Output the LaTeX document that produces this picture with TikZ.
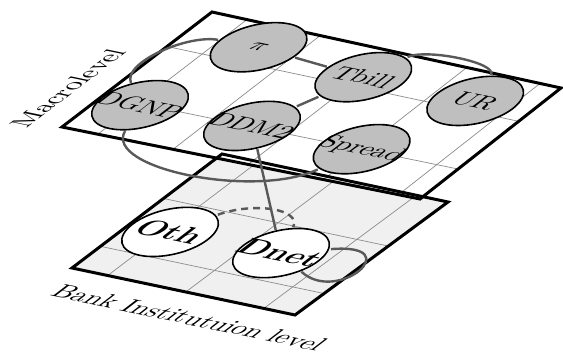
\documentclass[tikz,border=0pt]{standalone}
\usetikzlibrary{calc}
\pgfdeclarelayer{planes}
\pgfdeclarelayer{links}
\pgfsetlayers{planes,links,main}
\begin{document}
\begin{tikzpicture}[x=1pt,y=1pt,
  planeframe/.style={line width=3pt, line join=miter},
  gridline/.style={draw=black!45, line width=0.7pt},
  upperframe/.style={x=1cm,y=1cm,cm={2.636,-0.5448,2.1439,1.6413,(62pt,229pt)}},
  lowerframe/.style={x=1cm,y=1cm,cm={2.636,-0.5448,2.1439,1.6413,(72pt,88pt)}},
  macro/.style={circle, draw=black, line width=1.6pt, fill=gray!50,
    minimum size=1cm, inner sep=0pt, transform shape},
  bank/.style={macro, fill=white, font=\large\bfseries},
  link/.style={draw=black!65, line width=2.4pt},
  levelname/.style={transform shape, inner sep=0pt},
]
\useasboundingbox (0,0) rectangle (563,356);

% corners of the two planes
\coordinate (lBL) at (72,88);
\coordinate (lBR) at (295,41);
\coordinate (lTR) at (448,154);
\coordinate (lTL) at (222,202);
\coordinate (uBL) at (62,229);
\coordinate (uBR) at (420,157);
\coordinate (uTR) at (561,268);
\coordinate (uTL) at (212,344);

\begin{pgfonlayer}{planes}
  % bank institution plane
  \fill[gray!12] (lBL) -- (lBR) -- (lTR) -- (lTL) -- cycle;
  \foreach \f in {0.16,0.51,0.86}
    \draw[gridline] ($(lBL)!\f!(lBR)$) -- ($(lTL)!\f!(lTR)$);
  \foreach \f in {0.19,0.61}
    \draw[gridline] ($(lBL)!\f!(lTL)$) -- ($(lBR)!\f!(lTR)$);
  % macro plane
  \fill[white] (uBL) -- (uBR) -- (uTR) -- (uTL) -- cycle;
  \foreach \f in {0.10,0.31,0.52,0.73,0.94}
    \draw[gridline] ($(uBL)!\f!(uBR)$) -- ($(uTL)!\f!(uTR)$);
  \foreach \f in {0.27,0.70}
    \draw[gridline] ($(uBL)!\f!(uTL)$) -- ($(uBR)!\f!(uTR)$);
  % frames of both planes on top of the fills
  \draw[planeframe] (lBL) -- (lBR) -- (lTR) -- (lTL) -- cycle;
  \draw[planeframe] (uBL) -- (uBR) -- (uTR) -- (uTL) -- cycle;
\end{pgfonlayer}

% macro level variables
\begin{scope}[upperframe]
  \node[macro] (DGNP)   at (0.52,0.64) {\makebox[0pt]{DGNP}};
  \node[macro] (pi)     at (0.97,2.03) {\makebox[0pt]{\small$\pi$}};
  \node[macro] (DDM2)   at (1.98,0.68) {\makebox[0pt]{DDM2}};
  \node[macro] (Tbill)  at (2.48,1.89) {\makebox[0pt]{Tbill}};
  \node[macro] (UR)     at (3.98,1.88) {\makebox[0pt]{UR}};
  \node[macro] (Spread) at (3.45,0.67) {\makebox[0pt]{Spread}};
  \node[levelname, rotate=90] (macrotitle) at (-0.47,0.67) {Macrolevel};
\end{scope}

% bank level variables
\begin{scope}[lowerframe]
  \node[bank] (Oth)  at (0.535,0.95) {\makebox[0pt]{Oth}};
  \node[bank] (Dnet) at (1.99,0.98)  {\makebox[0pt]{Dnet}};
  \node[levelname] (banktitle) at (1.92,-0.43) {Bank Institutuion level};
\end{scope}

\begin{pgfonlayer}{links}
  \begin{scope}[upperframe]
    \draw[link] (DGNP) .. controls (-0.25,1.3) and (0.05,2.0) .. (pi);
    \draw[link] (DGNP) .. controls (1.0,-0.55) and (3.0,-0.55) .. (Spread);
    \draw[link] (pi) -- (Tbill);
    \draw[link] (DDM2) -- (Tbill);
    \draw[link] (Tbill) .. controls (2.75,2.6) and (3.7,2.6) .. (UR);
  \end{scope}
  \begin{scope}[lowerframe]
    \draw[link, dash pattern=on 7pt off 5pt] (Oth) .. controls (1.0,1.75) and (1.6,1.8) .. (Dnet);
    \draw[link] (Dnet) .. controls (3.2,1.6) and (3.3,0.3) .. (Dnet);
  \end{scope}
  \draw[link] (DDM2) -- (Dnet);
\end{pgfonlayer}
\end{tikzpicture}
\end{document}
